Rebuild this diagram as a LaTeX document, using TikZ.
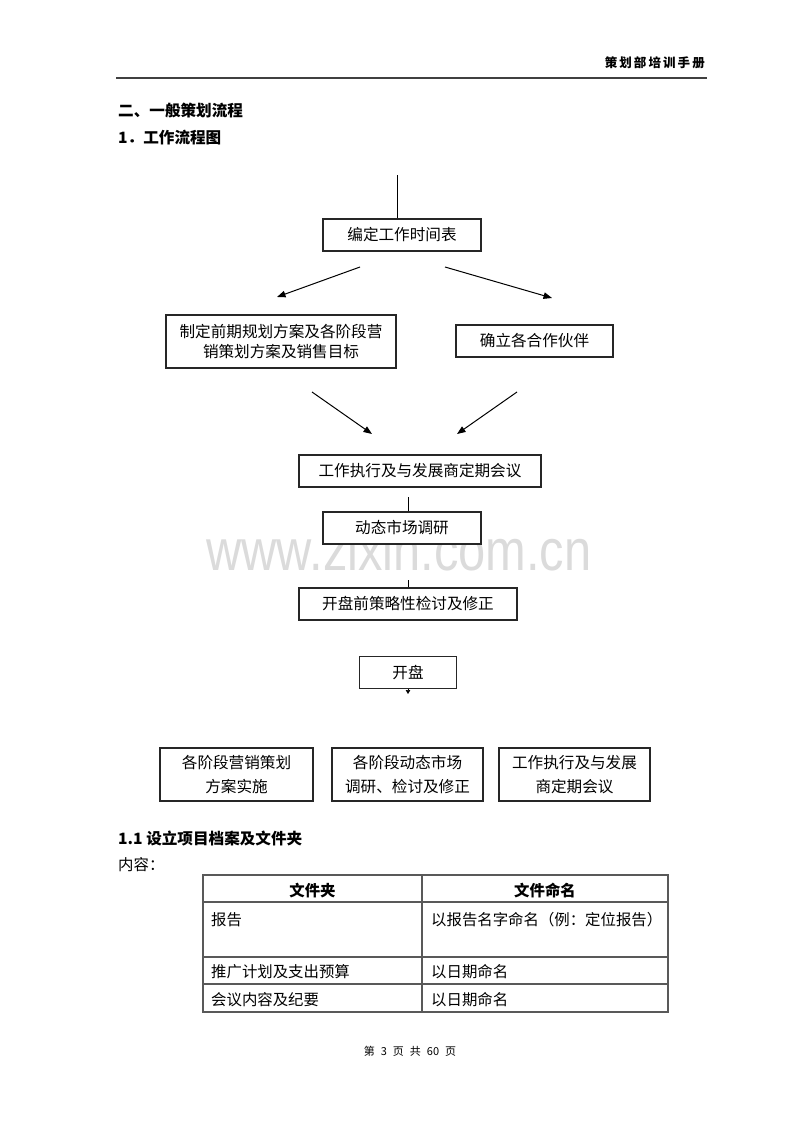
\documentclass[tikz,border=0pt]{standalone}
\usepackage{fontspec}
\usepackage{graphicx}
\setmainfont{Liberation Serif}
\newfontfamily\cjk{Noto Sans CJK SC}
\newfontfamily\wmfont{Liberation Sans}
\usetikzlibrary{arrows.meta}
\begin{document}
\begin{tikzpicture}[x=1pt,y=-1pt,
  flowbox/.style={draw=black!85, fill=white, line width=1.2pt, minimum height=32pt, inner sep=0pt, font=\cjk\fontsize{15.6}{20}\selectfont, align=center},
  lowbox/.style={flowbox, minimum height=53pt, font=\cjk\fontsize{15.6}{23.5}\selectfont},
  arr/.style={draw=black, line width=1pt, -{Triangle[length=8.5pt,width=6.5pt]}},
  link/.style={draw=black, line width=1pt},
  bodytext/.style={font=\cjk\fontsize{15.4}{20}\selectfont, inner sep=0pt, anchor=west},
  headtext/.style={font=\cjk\bfseries\fontsize{15.6}{20}\selectfont, inner sep=0pt, anchor=west},
  tline/.style={draw=black!65, line width=1.1pt}]

% page
\path[fill=white] (0,0) rectangle (800,1132);

% watermark
\node[font=\wmfont\fontsize{48.8}{50}\selectfont, text=black!14, inner sep=0pt, anchor=base] (wm) at (399,570) {\scalebox{1}[1.19]{www.zixin.com.cn}};

% running header
\node[font=\cjk\bfseries\fontsize{12.5}{14}\selectfont, anchor=east, inner sep=0pt] (hdr) at (705,63) {策\,划\,部\,培\,训\,手\,册};
\coordinate (hl) at (116,78);
\coordinate (hr) at (707,78);
\draw[draw=black!75, line width=1.2pt] (hl) -- (hr);

% headings
\node[headtext] (h1) at (118,111) {二、一般策划流程};
\node[headtext] (h2) at (118,138) {1．工作流程图};

% flow boxes
\node[flowbox, minimum width=158pt] (b1) at (402,235) {编定工作时间表};
\node[flowbox, minimum width=230pt, minimum height=53pt] (b2) at (281,341.5) {制定前期规划方案及各阶段营\\销策划方案及销售目标};
\node[flowbox, minimum width=157pt] (b3) at (534.5,341) {确立各合作伙伴};
\node[flowbox, minimum width=242pt] (b4) at (420,471) {工作执行及与发展商定期会议};
\node[flowbox, minimum width=158pt] (b5) at (402,528) {动态市场调研};
\node[flowbox, minimum width=218pt] (b6) at (408,604) {开盘前策略性检讨及修正};
\node[flowbox, minimum width=97pt] (b7) at (408,672.5) {开盘};
\node[lowbox, minimum width=153pt] (b8) at (236.5,774.5) {各阶段营销策划\\方案实施};
\node[lowbox, minimum width=151pt] (b9) at (407.5,774.5) {各阶段动态市场\\调研、检讨及修正};
\node[lowbox, minimum width=151pt] (b10) at (574.5,774.5) {工作执行及与发展\\商定期会议};

% connectors
\coordinate (top) at (397,175);
\draw[link] (top) -- (top |- b1.north);

\coordinate (a1s) at (360,267); \coordinate (a1e) at (277,297);
\coordinate (a2s) at (445,267); \coordinate (a2e) at (552,298);
\coordinate (a3s) at (312,392); \coordinate (a3e) at (372,434);
\coordinate (a4s) at (517,392); \coordinate (a4e) at (457,434);
\draw[arr] (a1s) -- (a1e);
\draw[arr] (a2s) -- (a2e);
\draw[arr] (a3s) -- (a3e);
\draw[arr] (a4s) -- (a4e);

\coordinate (l1) at (408,497);
\draw[link] (l1) -- (l1 |- b5.north);
\coordinate (l2) at (408,580);
\draw[link] (l2) -- (l2 |- b6.north);
\coordinate (t7) at (408,694);
\draw[draw=black, line width=0.6pt, -{Triangle[length=4pt,width=4.5pt]}] (b7.south) -- (t7);

% section 1.1
\node[headtext] (h3) at (118,838) {1.1 设立项目档案及文件夹};
\node[bodytext] (h4) at (118,865) {内容：};

% table
\coordinate (tl) at (203,875);
\coordinate (br) at (668,1012);
\draw[tline] (tl) rectangle (br);
\draw[tline] (422,875) -- (422,1012);
\draw[tline] (203,902) -- (668,902);
\draw[tline] (203,957) -- (668,957);
\draw[tline] (203,984) -- (668,984);

\node[font=\cjk\bfseries\fontsize{15.4}{20}\selectfont, inner sep=0pt] (c11) at (312.5,891) {文件夹};
\node[font=\cjk\bfseries\fontsize{15.4}{20}\selectfont, inner sep=0pt] (c12) at (545,891) {文件命名};
\node[bodytext] (c21) at (211,920) {报告};
\node[bodytext] (c22) at (431,920) {以报告名字命名（例：定位报告）};
\node[bodytext] (c31) at (211,972) {推广计划及支出预算};
\node[bodytext] (c32) at (431,972) {以日期命名};
\node[bodytext] (c41) at (211,1000) {会议内容及纪要};
\node[bodytext] (c42) at (431,1000) {以日期命名};

% footer
\node[font=\cjk\fontsize{11}{12}\selectfont, inner sep=0pt] (ftr) at (410,1051) {第\hspace{6pt}3\hspace{6pt}页\hspace{6pt}共\hspace{6pt}60\hspace{6pt}页};
\end{tikzpicture}
\end{document}
